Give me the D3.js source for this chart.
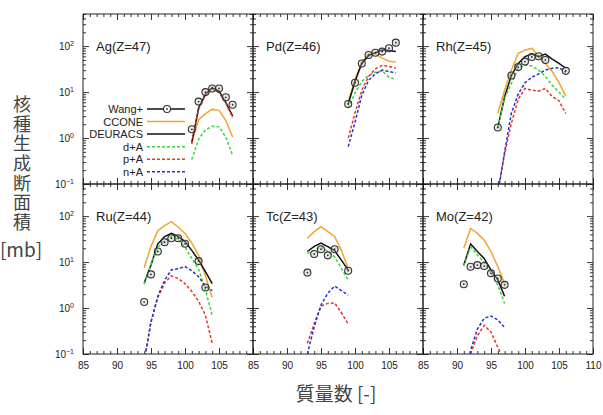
<!DOCTYPE html>
<html>
<head>
<meta charset="utf-8">
<script src="https://cdn.jsdelivr.net/npm/d3@7"></script>
<style>
body { margin: 0; background: #fff; }
text { font-family: "Liberation Sans", Arial, sans-serif; fill: #222; }
.jp { font-family: "Noto Sans CJK JP", "Noto Sans CJK SC", sans-serif; fill: #444; }
</style>
</head>
<body>
<svg id="chart" width="603" height="415"></svg>
<script>
var xTicks = [85, 90, 95, 100, 105, 110];
var yDecades = [0.1, 1, 10, 100];
var panelNames = ["Ag(Z=47)", "Pd(Z=46)", "Rh(Z=45)", "Ru(Z=44)", "Tc(Z=43)", "Mo(Z=42)"];
var seriesNames = ["Wang+", "CCONE", "DEURACS", "d+A", "p+A", "n+A"];

// Ag (no n+A curve in this panel)
var agMass = [101, 102, 103, 104, 105, 106, 107];
var agExpMass = [101, 102, 103, 104, 105, 106, 107];
var agExp = [1.55, 6.2, 10, 12, 12, 7.7, 5.3];
var agCCONE = [0.8, 2.5, 3.4, 4.2, 4.0, 2.4, 1.05];
var agDEURACS = [0.8, 4.5, 9, 12.5, 10.5, 6, 3];
var agD = [0.34, 0.95, 1.5, 1.8, 1.75, 1.05, 0.42];
var agP = [0.75, 4.2, 8.5, 11.5, 9.8, 5.7, 2.8];
var agN = [];

// Pd
var pdMass = [99, 100, 101, 102, 103, 104, 105, 106];
var pdExpMass = [99, 100, 101, 102, 103, 104, 105, 106];
var pdExp = [5.5, 16, 42, 64, 72, 76, 90, 119];
var pdCCONE = [6, 19, 45, 68, 68, 55, 47, 45];
var pdDEURACS = [5.5, 17, 42, 62, 72, 82, 80, 76];
var pdD = [4.5, 9.5, 17, 23, 27, 29, 21, 19];
var pdP = [1.0, 3.5, 11, 22, 32, 38, 36, 33];
var pdN = [0.65, 2.2, 8.5, 18, 25, 30, 28, 26];

// Rh
var rhMass = [96, 97, 98, 99, 100, 101, 102, 103, 104, 105, 106];
var rhExpMass = [96, 98, 99, 100, 101, 102, 103, 106];
var rhExp = [1.7, 23, 35, 46, 58, 60, 50, 29];
var rhCCONE = [3.4, 11, 30, 70, 82, 90, 59, 42, 28, 16, 8.2];
var rhDEURACS = [1.7, 7.9, 23, 42, 59, 67, 59, 67, 52, 42, 33];
var rhD = [1.7, 7.3, 15.5, 33, 39, 37, 30, 22, 14, 10, 7];
var rhP = [0.07, 0.45, 2.1, 7, 12, 11, 10.5, 12, 8, 6.5, 3.4];
var rhN = [0.06, 0.5, 3.5, 9, 16, 21, 25, 30, 33, 34, 27];

// Ru
var ruMass = [94, 95, 96, 97, 98, 99, 100, 101, 102, 103, 104];
var ruExpMass = [94, 95, 96, 97, 98, 99, 100, 102, 103];
var ruExp = [1.35, 5.4, 17, 27, 33, 33, 25, 10.5, 2.8];
var ruCCONE = [7.5, 22, 48, 62, 76, 58, 42, 26, 14, 5, 1.7];
var ruDEURACS = [3.5, 8.6, 25, 36, 42, 36, 28, 18, 11, 6.2, 3.4];
var ruD = [3.3, 9, 21, 30, 36, 31, 21, 12, 7, 2.5, 0.7];
var ruP = [0.07, 0.5, 1.7, 3.5, 5, 4.4, 3.4, 2.3, 1.4, 0.7, 0.17];
var ruN = [0.07, 0.5, 1.8, 4, 6.8, 7.2, 8, 6.5, 4.8, 3, 2.4];

// Tc
var tcMass = [93, 94, 95, 96, 97, 98, 99];
var tcExpMass = [93, 94, 95, 96, 97, 99];
var tcExp = [5.9, 15, 19, 14, 19, 6.5];
var tcCCONE = [33, 46, 59, 46, 36, 18, 7.3];
var tcDEURACS = [17, 22, 26, 21.6, 17.7, 11, 6.7];
var tcD = [15.5, 18, 21.6, 17, 13, 7.3, 4.1];
var tcP = [0.17, 0.46, 1.1, 1.26, 1.3, 0.79, 0.45];
var tcN = [0.1, 0.39, 1.16, 2.1, 3.0, 2.4, 1.9];

// Mo
var moMass = [91, 92, 93, 94, 95, 96, 97];
var moExpMass = [91, 92, 93, 94, 95, 96, 97];
var moExp = [3.3, 7.9, 8.6, 8.2, 5.7, 4.4, 3.2];
var moCCONE = [20, 54, 42, 30, 17, 7.9, 3.4];
var moDEURACS = [8.6, 24.7, 17, 12, 6.7, 4.1, 1.8];
var moD = [8.2, 21.6, 14.2, 10, 5.7, 3.2, 1.26];
var moP = [0.03, 0.1, 0.25, 0.42, 0.3, 0.14, 0.07];
var moN = [0.03, 0.12, 0.35, 0.6, 0.67, 0.55, 0.38];

var panels = [
  {mass: agMass, expMass: agExpMass, exp: agExp, curves: [agCCONE, agDEURACS, agD, agP, agN]},
  {mass: pdMass, expMass: pdExpMass, exp: pdExp, curves: [pdCCONE, pdDEURACS, pdD, pdP, pdN]},
  {mass: rhMass, expMass: rhExpMass, exp: rhExp, curves: [rhCCONE, rhDEURACS, rhD, rhP, rhN]},
  {mass: ruMass, expMass: ruExpMass, exp: ruExp, curves: [ruCCONE, ruDEURACS, ruD, ruP, ruN]},
  {mass: tcMass, expMass: tcExpMass, exp: tcExp, curves: [tcCCONE, tcDEURACS, tcD, tcP, tcN]},
  {mass: moMass, expMass: moExpMass, exp: moExp, curves: [moCCONE, moDEURACS, moD, moP, moN]}
];

// styles for CCONE, DEURACS, d+A, p+A, n+A
var colors = ["#f2a52e", "#111111", "#3ed43e", "#e8362c", "#2433d6"];
var dashes = [null, null, "3,2", "3,2", "3,2"];

// panel size and grid origin (don't call it "top", window.top is read-only)
var W = 170, H = 170, gridLeft = 83, gridTop = 14;

var svg = d3.select("#chart");

var x = d3.scaleLinear().domain([85, 110]).range([0, W]);
var y = d3.scaleLog().domain([0.1, 500]).range([H, 0]);

var xMinor = d3.range(85, 111).filter(function(v) { return v % 5 != 0; });
var yMinor = [];
yDecades.forEach(function(dec) {
  for (var m = 2; m <= 9; m++) {
    if (m * dec <= 500) yMinor.push(m * dec);
  }
});

var line = d3.line()
  .x(function(d) { return x(d[0]); })
  .y(function(d) { return y(d[1]); });

var supers = {"-1": "\u22121", "0": "0", "1": "1", "2": "2"};

panels.forEach(function(p, i) {
  var col = i % 3, row = Math.floor(i / 3);
  var g = svg.append("g")
    .attr("transform", "translate(" + (gridLeft + col * W) + "," + (gridTop + row * H) + ")");

  g.append("clipPath").attr("id", "clip" + i)
    .append("rect").attr("width", W).attr("height", H);

  // ticks pointing inward on all four sides
  function ticks(axis, tx, ty, vals, size) {
    g.append("g")
      .attr("transform", "translate(" + tx + "," + ty + ")")
      .call(axis.tickValues(vals).tickSize(-size).tickFormat(""))
      .call(function(a) { a.select(".domain").remove(); a.selectAll("line").attr("stroke-width", 0.8); });
  }
  ticks(d3.axisBottom(x), 0, H, xTicks, 6);
  ticks(d3.axisBottom(x), 0, H, xMinor, 3);
  ticks(d3.axisTop(x), 0, 0, xTicks, 6);
  ticks(d3.axisTop(x), 0, 0, xMinor, 3);
  ticks(d3.axisLeft(y), 0, 0, yDecades, 6);
  ticks(d3.axisLeft(y), 0, 0, yMinor, 3);
  ticks(d3.axisRight(y), W, 0, yDecades, 6);
  ticks(d3.axisRight(y), W, 0, yMinor, 3);

  g.append("rect")
    .attr("width", W).attr("height", H)
    .attr("fill", "none").attr("stroke", "#222").attr("stroke-width", 1);

  // x labels on the bottom row
  if (row == 1) {
    var labs = col == 2 ? xTicks : xTicks.slice(0, 5);
    g.append("g")
      .attr("transform", "translate(0," + H + ")")
      .call(d3.axisBottom(x).tickValues(labs).tickSize(0).tickPadding(8))
      .call(function(a) {
        a.select(".domain").remove();
        a.selectAll("text").attr("font-size", 10).attr("font-family", "Liberation Sans, Arial, sans-serif").attr("fill", "#222");
      });
  }

  // y labels on the left column
  if (col == 0) {
    g.append("g")
      .call(d3.axisLeft(y).tickValues(yDecades).tickSize(0).tickPadding(9).tickFormat(function() { return ""; }))
      .call(function(a) {
        a.select(".domain").remove();
        a.selectAll("text")
          .attr("font-size", 10)
          .attr("font-family", "Liberation Sans, Arial, sans-serif")
          .attr("fill", "#222")
          .each(function(d) {
            var t = d3.select(this);
            t.append("tspan").text("10");
            t.append("tspan").attr("dy", -4).attr("font-size", 7)
              .text(supers[String(Math.round(Math.log10(d)))]);
          });
      });
  }

  var plot = g.append("g").attr("clip-path", "url(#clip" + i + ")");

  p.curves.forEach(function(vals, k) {
    if (!vals.length) return;
    var pts = p.mass.map(function(m, j) { return [m, vals[j]]; });
    plot.append("path")
      .datum(pts)
      .attr("d", line)
      .attr("fill", "none")
      .attr("stroke", colors[k])
      .attr("stroke-width", 1.5)
      .attr("stroke-dasharray", dashes[k]);
  });

  var expPts = p.expMass.map(function(m, j) { return [m, p.exp[j]]; });
  var circ = plot.selectAll(".exp").data(expPts).enter().append("g")
    .attr("transform", function(d) { return "translate(" + x(d[0]) + "," + y(d[1]) + ")"; });
  circ.append("circle").attr("r", 3.5).attr("fill", "rgba(190,190,190,0.35)").attr("stroke", "#333").attr("stroke-width", 1.1);
  circ.append("circle").attr("r", 0.9).attr("fill", "#333");

  g.append("text")
    .attr("x", 13).attr("y", 37)
    .attr("font-size", 13)
    .text(panelNames[i]);

  // legend in the first panel
  if (i == 0) {
    seriesNames.forEach(function(name, k) {
      var ly = 95 + k * 12.55;
      g.append("text")
        .attr("x", 60).attr("y", ly + 4)
        .attr("text-anchor", "end")
        .attr("font-size", 11)
        .text(name);
      var col2 = k == 0 ? "#111" : colors[k - 1];
      g.append("line")
        .attr("x1", 64).attr("x2", 102).attr("y1", ly).attr("y2", ly)
        .attr("stroke", col2).attr("stroke-width", 1.5)
        .attr("stroke-dasharray", k == 0 ? null : dashes[k - 1]);
      if (k == 0) {
        g.append("circle").attr("cx", 84).attr("cy", ly).attr("r", 3.5)
          .attr("fill", "#fff").attr("stroke", "#333").attr("stroke-width", 1.1);
        g.append("circle").attr("cx", 84).attr("cy", ly).attr("r", 0.9).attr("fill", "#333");
      }
    });
  }
});

// axis titles: the y title is one vertical text
svg.append("text")
  .attr("class", "jp")
  .attr("x", 22).attr("y", 95)
  .attr("font-size", 18)
  .style("writing-mode", "vertical-rl")
  .attr("letter-spacing", 1.7)
  .text("核種生成断面積");

svg.append("text")
  .attr("class", "jp")
  .attr("x", 21).attr("y", 257)
  .attr("text-anchor", "middle")
  .attr("font-size", 19)
  .text("[mb]");

svg.append("text")
  .attr("class", "jp")
  .attr("x", 336).attr("y", 401)
  .attr("text-anchor", "middle")
  .attr("font-size", 19)
  .text("質量数 [-]");
</script>
</body>
</html>
